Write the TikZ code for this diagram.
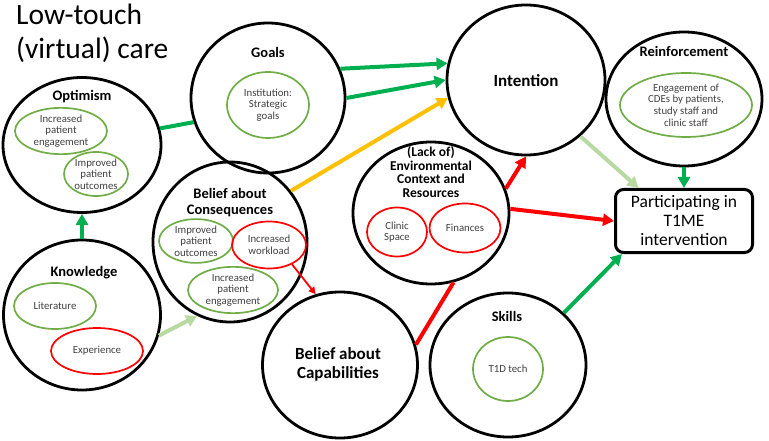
\documentclass[tikz,border=0pt]{standalone}
\usepackage{fontspec}
\setmainfont{Carlito}
\usetikzlibrary{arrows.meta, shapes.geometric}
\definecolor{tdfgreen}{HTML}{00B050}
\definecolor{tdfpale}{HTML}{B8DAA2}
\definecolor{tdfleaf}{HTML}{70AD47}
\definecolor{tdfred}{HTML}{FF0000}
\definecolor{tdfamber}{HTML}{FFC000}
\definecolor{tdftext}{HTML}{404040}
\tikzset{
  tdf/.style={
    x=1pt, y=-1pt, line join=round,
    >={Triangle[length=11pt, width=12pt]},
  },
  construct/.style={draw=black, line width=2.8pt, ellipse, inner sep=0pt},
  dlabel/.style={font=\fontsize{14.5}{16}\selectfont\bfseries, align=center, inner sep=0pt},
  biglabel/.style={font=\fontsize{17}{19}\selectfont\bfseries, align=center, inner sep=0pt},
  item/.style={
    ellipse, line width=1.7pt, inner sep=0pt, align=center, text=tdftext,
    font=\fontsize{10.8}{11.7}\selectfont,
  },
  good/.style={item, draw=tdfleaf},
  bad/.style={item, draw=tdfred},
  target/.style={
    draw=black, line width=3pt, rounded corners=8pt, align=center,
    font=\fontsize{17.5}{19}\selectfont, inner sep=0pt,
  },
  flow/.style={->, line width=4pt},
  link/.style={line width=4pt},
  thinflow/.style={-{Triangle[length=7pt, width=7pt]}, line width=1.8pt, draw=tdfred},
}
\begin{document}
\begin{tikzpicture}[tdf]
  \useasboundingbox (0,0) rectangle (769,441);

  \node[anchor=north west, align=left, inner sep=0pt, font=\fontsize{29.5}{34}\selectfont] (title) at (16,4) {Low-touch\\(virtual) care};

  % constructs
  \node[construct, minimum width=158pt, minimum height=135pt] (optimism) at (82,145) {};
  \node[construct, minimum width=154pt, minimum height=150pt] (goals) at (268,98) {};
  \node[construct, minimum width=158pt, minimum height=150pt] (intention) at (526,80) {};
  \node[construct, minimum width=156pt, minimum height=134pt] (reinforcement) at (684,99) {};
  \node[construct, minimum width=157pt, minimum height=150pt] (knowledge) at (82,315) {};
  \node[construct, minimum width=154pt, minimum height=160pt] (consequences) at (230,242) {};
  \node[construct, minimum width=155pt, minimum height=146pt] (capabilities) at (340,365) {};
  \node[construct, minimum width=156pt, minimum height=142pt] (environment) at (431,213) {};
  \node[construct, minimum width=156pt, minimum height=144pt] (skills) at (508,365) {};
  \node[target, minimum width=137pt, minimum height=63pt] (part) at (684,221) {Participating in\\T1ME\\intervention};

  % construct labels
  \node[dlabel] (optimismlbl) at (82,97) {Optimism};
  \node[dlabel] (goalslbl) at (268,52) {Goals};
  \node[biglabel] (intentionlbl) at (526,81) {Intention};
  \node[dlabel] (reinforcementlbl) at (684,51) {Reinforcement};
  \node[dlabel] (knowledgelbl) at (84,273) {Knowledge};
  \node[dlabel] (consequenceslbl) at (230,203) {Belief about\\Consequences};
  \node[biglabel] (capabilitieslbl) at (338,364) {Belief about\\Capabilities};
  \node[dlabel, font=\fontsize{13.5}{13.9}\selectfont\bfseries] (environmentlbl) at (431,172) {(Lack of)\\Environmental\\Context and\\Resources};
  \node[dlabel] (skillslbl) at (507,316) {Skills};

  % determinants
  \node[good, minimum width=92pt, minimum height=44pt] (optengage) at (61,131) {Increased\\patient\\engagement};
  \node[good, minimum width=64pt, minimum height=44pt] (optoutcome) at (96,174) {Improved\\patient\\outcomes};
  \node[good, minimum width=82pt, minimum height=66pt] (strategic) at (268,105) {Institution:\\Strategic\\goals};
  \node[good, minimum width=132pt, minimum height=64pt] (cdes) at (686,105) {Engagement of\\CDEs by patients,\\study staff and\\clinic staff};
  \node[good, minimum width=82pt, minimum height=46pt] (literature) at (55,306) {Literature};
  \node[bad, minimum width=92pt, minimum height=46pt] (experience) at (97,351) {Experience};
  \node[good, minimum width=74pt, minimum height=42pt] (conoutcome) at (196,241) {Improved\\patient\\outcomes};
  \node[bad, minimum width=74pt, minimum height=47pt] (workload) at (269,245) {Increased\\workload};
  \node[good, minimum width=90pt, minimum height=44pt] (conengage) at (233,290) {Increased\\patient\\engagement};
  \node[bad, minimum width=60pt, minimum height=49pt] (space) at (397,232) {Clinic\\Space};
  \node[bad, minimum width=71pt, minimum height=49pt] (finances) at (465,228) {Finances};
  \node[good, minimum width=70pt, minimum height=64pt] (tech) at (508,369) {T1D tech};

  % connectors
  \draw[link, tdfgreen] (optimism.12) -- (goals.198);
  \draw[flow, tdfgreen] (goals.22) -- (intention.168);
  \draw[flow, tdfgreen] (goals.0) -- (intention.180);
  \draw[flow, tdfamber] (consequences.40) -- (intention.193);
  \draw[flow, tdfgreen] (knowledge.north) -- (optimism.south);
  \draw[flow, tdfpale] (knowledge.345) -- (consequences.246);
  \draw[thinflow] (workload.320) -- (capabilities.109);
  \draw[link, tdfred] (capabilities.15) -- (environment.288);
  \draw[flow, tdfred] (environment.18) -- (intention.south);
  \draw[flow, tdfred] (environment.3) -- (part.west);
  \draw[flow, tdfpale] (intention.314) -- (part.144);
  \draw[flow, tdfgreen] (reinforcement.south) -- (part.north);
  \draw[flow, tdfgreen] (skills.43) -- (part.208);
\end{tikzpicture}
\end{document}
